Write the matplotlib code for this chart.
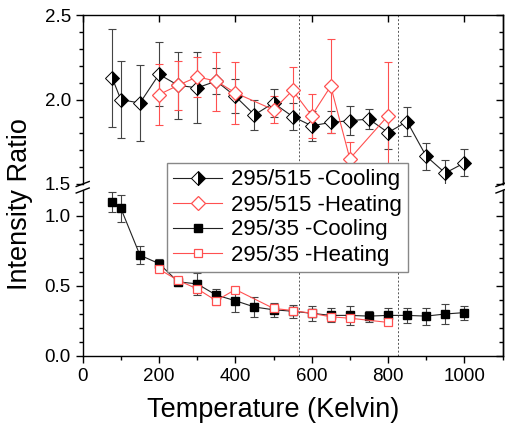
import matplotlib
matplotlib.use("Agg")
import matplotlib.pyplot as plt
from matplotlib.ticker import MultipleLocator

plt.rcParams['font.family'] = ['Liberation Sans', 'DejaVu Sans']

# ---- data ----
T_cool = [77, 100, 150, 200, 250, 300, 350, 400, 450, 500, 550, 600, 650, 700, 750, 800, 850, 900, 950, 1000]
T_heat = [200, 250, 300, 350, 400, 500, 550, 600, 650, 700, 800]

r515_cool = [2.13, 2.00, 1.98, 2.15, 2.085, 2.07, 2.11, 2.02, 1.91, 1.98, 1.90, 1.845, 1.865, 1.875, 1.885, 1.805, 1.87, 1.665, 1.565, 1.625]
r515_cool_err = [0.29, 0.23, 0.225, 0.19, 0.20, 0.21, 0.075, 0.10, 0.09, 0.085, 0.08, 0.09, 0.065, 0.085, 0.06, 0.10, 0.085, 0.08, 0.08, 0.08]

r515_heat = [2.03, 2.085, 2.135, 2.11, 2.04, 1.94, 2.055, 1.905, 2.08, 1.65, 1.905]
r515_heat_err = [0.18, 0.145, 0.12, 0.175, 0.185, 0.08, 0.14, 0.13, 0.28, 0.10, 0.32]

r35_cool = [1.10, 1.055, 0.72, 0.66, 0.53, 0.515, 0.435, 0.395, 0.35, 0.33, 0.32, 0.305, 0.29, 0.29, 0.285, 0.29, 0.29, 0.285, 0.30, 0.31]
r35_cool_err = [0.07, 0.095, 0.065, 0.03, 0.03, 0.08, 0.045, 0.08, 0.07, 0.05, 0.045, 0.055, 0.05, 0.07, 0.04, 0.055, 0.055, 0.06, 0.07, 0.05]

r35_heat = [0.62, 0.54, 0.48, 0.395, 0.475, 0.34, 0.325, 0.305, 0.28, 0.27, 0.24]
r35_heat_err = [0.02, 0.02, 0.03, 0.03, 0.02, 0.03, 0.02, 0.02, 0.02, 0.02, 0.02]

vlines_T = [566, 825]

labels = ['295/515 -Cooling', '295/515 -Heating', '295/35 -Cooling', '295/35 -Heating']

# ---- layout ----
W, H = 506, 433
fig = plt.figure(figsize=(W / 100, H / 100), dpi=100)
L = 82.7 / W
R = 502.5 / W
top_px, brk1_px, brk2_px, bot_px = 15.3, 184.0, 190.0, 356.0
ax_t = fig.add_axes([L, 1 - brk1_px / H, R - L, (brk1_px - top_px) / H])
ax_b = fig.add_axes([L, 1 - bot_px / H, R - L, (bot_px - brk2_px) / H])

RED = '#ff5050'
BLK = '#222222'
lw = 0.8

# upper panel
l1, = ax_t.plot(T_cool, r515_cool, color=BLK, lw=lw, marker='D', ms=7,
                fillstyle='right', markerfacecolor='black', markerfacecoloralt='white',
                markeredgecolor='black', markeredgewidth=0.7, zorder=4)
ax_t.errorbar(T_cool, r515_cool, yerr=r515_cool_err, fmt='none', ecolor='#444444',
              elinewidth=0.8, capsize=3, capthick=0.8, zorder=3)
l2, = ax_t.plot(T_heat, r515_heat, color=RED, lw=lw, marker='D', ms=7,
                markerfacecolor='white', markeredgecolor=RED, markeredgewidth=0.9, zorder=5)
ax_t.errorbar(T_heat, r515_heat, yerr=r515_heat_err, fmt='none', ecolor=RED,
              elinewidth=0.8, capsize=3, capthick=0.8, zorder=3)

# lower panel
l3, = ax_b.plot(T_cool, r35_cool, color=BLK, lw=lw, marker='s', ms=6,
                markerfacecolor='black', markeredgecolor='black', zorder=4)
ax_b.errorbar(T_cool, r35_cool, yerr=r35_cool_err, fmt='none', ecolor='#444444',
              elinewidth=0.8, capsize=3, capthick=0.8, zorder=3)
l4, = ax_b.plot(T_heat, r35_heat, color=RED, lw=lw, marker='s', ms=6,
                markerfacecolor='white', markeredgecolor=RED, markeredgewidth=0.9, zorder=5)
ax_b.errorbar(T_heat, r35_heat, yerr=r35_heat_err, fmt='none', ecolor=RED,
              elinewidth=0.8, capsize=3, capthick=0.8, zorder=3)

for ax in (ax_t, ax_b):
    for v in vlines_T:
        ax.axvline(v, color='#555555', lw=0.7, ls=(0, (2, 2)), zorder=1)
    ax.set_xlim(0, 1100)
    ax.xaxis.set_major_locator(MultipleLocator(200))
    ax.xaxis.set_minor_locator(MultipleLocator(100))
    ax.yaxis.set_minor_locator(MultipleLocator(0.1))
    ax.yaxis.set_major_locator(MultipleLocator(0.5))
    for s in ax.spines.values():
        s.set_linewidth(1.0)
    ax.tick_params(axis='y', which='both', left=True, right=False, direction='out',
                   labelsize=13.5, width=1.0)
    ax.tick_params(axis='y', which='major', length=5)
    ax.tick_params(axis='y', which='minor', length=3)
    ax.yaxis.set_major_formatter(matplotlib.ticker.FormatStrFormatter('%.1f'))
    sec = ax.secondary_yaxis('right')
    sec.yaxis.set_major_locator(MultipleLocator(0.5))
    sec.yaxis.set_minor_locator(MultipleLocator(0.1))
    sec.tick_params(which='both', direction='in', labelright=False, width=1.0)
    sec.tick_params(which='major', length=5)
    sec.tick_params(which='minor', length=3)
    sec.spines['right'].set_linewidth(1.0)

ax_t.set_ylim(1.5, 2.5)
ax_b.set_ylim(0, (bot_px - brk2_px) / 140.0)

ax_t.spines['bottom'].set_visible(False)
ax_t.tick_params(axis='x', which='both', bottom=False, labelbottom=False,
                 top=True, direction='in', length=5, width=1.0)
ax_t.tick_params(axis='x', which='minor', top=False)
ax_b.spines['top'].set_visible(False)
ax_b.tick_params(axis='x', which='both', top=False, bottom=True, direction='out',
                 labelsize=13.5, width=1.0)
ax_b.tick_params(axis='x', which='major', length=5)
ax_b.tick_params(axis='x', which='minor', length=3)

# break marks
for xpx in (L * W, R * W):
    for ypx in (184.0, 190.5):
        fig.add_artist(plt.Line2D([(xpx - 6.5) / W, (xpx + 6.5) / W],
                                  [1 - (ypx + 2.5) / H, 1 - (ypx - 2.5) / H],
                                  color='black', lw=1.0, transform=fig.transFigure))

fig.text(20 / W, 1 - 204 / H, 'Intensity Ratio', rotation=90, ha='center', va='center',
         fontsize=19.5)
fig.text(((82.7 + 464.3) / 2) / W, 1 - 410 / H, 'Temperature (Kelvin)', ha='center',
         va='center', fontsize=19.5)

leg = fig.legend([l1, l2, l3, l4], labels, loc='center',
                 bbox_to_anchor=((166 + 409) / 2 / W, 1 - 217.5 / H),
                 fontsize=16, frameon=True, fancybox=False, framealpha=1,
                 edgecolor='#888888', handlelength=2.2, handletextpad=0.4,
                 labelspacing=0.18, borderpad=0.3, borderaxespad=0, numpoints=1)
leg.get_frame().set_linewidth(1.0)
leg.set_zorder(10)

fig.savefig('out.png', dpi=100)
